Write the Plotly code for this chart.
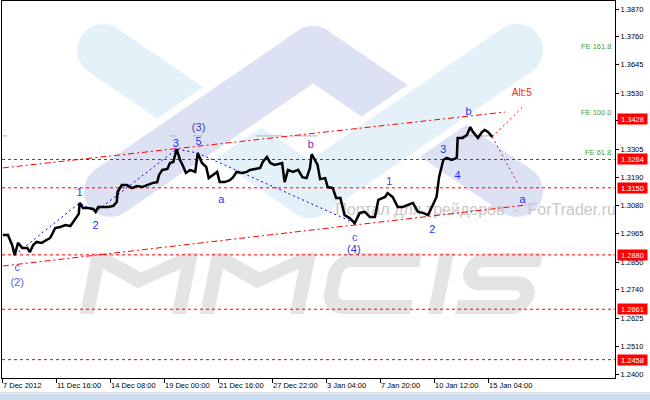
import math
import plotly.graph_objects as go

# ---------------- data ----------------
bar_index = [1, 7, 12, 15, 19, 24, 30, 33, 37, 41, 47, 53, 57, 59, 63, 69, 75, 81, 84, 88, 91, 92, 96, 102,
             108, 111, 114, 120, 126, 132, 136, 137, 142, 148, 154, 160, 166, 172, 178, 184, 186, 190, 196,
             199, 203, 207, 211, 214, 218, 223, 229, 232, 237, 242, 245, 250, 255, 258, 264, 270, 274, 278,
             284, 290, 294, 300, 306, 309, 314, 318, 323, 332, 335, 339, 345, 351, 356, 361, 365, 367, 372,
             374, 377, 383, 386, 392, 396, 401, 406, 412, 418, 424, 430, 436, 442, 446, 454, 457, 463, 469,
             475, 481, 487, 493, 499, 505, 511, 515, 518, 523, 527, 533, 539, 540, 546, 551, 555, 558, 564,
             569, 572, 576, 581]
close = [1.2960, 1.2960, 1.2920, 1.2879, 1.2928, 1.2908, 1.2908, 1.2891, 1.2920, 1.2932, 1.2928, 1.2940,
         1.2948, 1.2960, 1.2988, 1.2992, 1.3000, 1.2996, 1.3012, 1.3032, 1.3045, 1.3089, 1.3069, 1.3069,
         1.3065, 1.3053, 1.3073, 1.3073, 1.3073, 1.3077, 1.3093, 1.3133, 1.3161, 1.3161, 1.3149, 1.3157,
         1.3153, 1.3161, 1.3169, 1.3173, 1.3201, 1.3222, 1.3226, 1.3250, 1.3254, 1.3306, 1.3262, 1.3242,
         1.3210, 1.3222, 1.3214, 1.3290, 1.3250, 1.3234, 1.3189, 1.3202, 1.3214, 1.3173, 1.3173, 1.3181,
         1.3193, 1.3214, 1.3210, 1.3214, 1.3222, 1.3226, 1.3230, 1.3254, 1.3274, 1.3250, 1.3242, 1.3250,
         1.3173, 1.3222, 1.3214, 1.3222, 1.3193, 1.3189, 1.3230, 1.3286, 1.3254, 1.3242, 1.3185, 1.3189,
         1.3153, 1.3149, 1.3109, 1.3109, 1.3040, 1.3028, 1.3008, 1.3049, 1.3053, 1.3032, 1.3032, 1.3101,
         1.3113, 1.3129, 1.3113, 1.3073, 1.3073, 1.3081, 1.3089, 1.3053, 1.3049, 1.3040, 1.3081, 1.3113,
         1.3193, 1.3262, 1.3270, 1.3262, 1.3270, 1.3351, 1.3351, 1.3363, 1.3395, 1.3375, 1.3351, 1.3375,
         1.3383, 1.3375, 1.3355]

time_tick_index = [0, 64, 128, 192, 256, 320, 384, 448, 512, 576]
time_tick_text = ["7 Dec 2012", "11 Dec 16:00", "14 Dec 08:00", "19 Dec 00:00", "21 Dec 16:00",
                  "27 Dec 22:00", "3 Jan 04:00", "7 Jan 20:00", "10 Jan 12:00", "15 Jan 04:00"]
price_tick_vals = [1.3870, 1.3760, 1.3645, 1.3530, 1.3420, 1.3305, 1.3190, 1.3080, 1.2965,
                   1.2850, 1.2740, 1.2625, 1.2510, 1.2400]

hline_levels = [1.3264, 1.3150, 1.2880, 1.2661, 1.2458]
price_box_levels = [1.3428, 1.3264, 1.3150, 1.2880, 1.2661, 1.2458]

fe_levels = [1.3693, 1.3428, 1.3264]
fe_names = ["FE 161.8", "FE 100.0", "FE 61.8"]

channel_upper_idx = [1, 596]
channel_upper_px = [1.3230, 1.3455]
channel_lower_idx = [1, 622]
channel_lower_px = [1.2835, 1.3081]

wave_path_idx = [15, 92, 111, 207, 232, 418]
wave_path_px = [1.2879, 1.3089, 1.3053, 1.3306, 1.3290, 1.3008]

proj_up_idx = [581, 617]
proj_up_px = [1.3355, 1.3475]
proj_dn_idx = [581, 611]
proj_dn_px = [1.3355, 1.3169]

wave_text = ["c", "(2)", "1", "2", "3", "5", "(3)", "a", "b", "c", "(4)", "1", "2", "3", "4", "b", "a"]
wave_idx = [18, 18, 92, 111, 206, 233, 233, 260, 366, 418, 417, 459, 510, 523, 540, 553, 617]
wave_px = [1.2827, 1.2767, 1.3129, 1.2996, 1.3326, 1.3334, 1.3391, 1.3101, 1.3322, 1.2948, 1.2900,
           1.3173, 1.2980, 1.3302, 1.3197, 1.3455, 1.3101]
wave_color = ["#5a4fd8", "#5a5aff", "#2233ff", "#2233ff", "#2233ff", "#2233ff", "#3340b0", "#2233ff",
              "#7033c8", "#5a4fd8", "#2a3ad0", "#7033c8", "#2233ff", "#2233ff", "#2233ff", "#2233ff", "#2233ff"]
alt_text = ["Alt:5"]
alt_idx = [616]
alt_px = [1.3528]

bid_level = 1.3359
bid_segments = [(1, 6), (199, 206), (226, 237), (301, 333), (344, 374), (545, 583)]

# ---------------- geometry helpers (pixel -> paper) ----------------
PL, PR, PT, PB = 2, 615, 1, 378
W_PLOT, H_PLOT = PR - PL, PB - PT
X_RANGE = [0, 726.5]


def to_paper(px, py):
    return (px - PL) / W_PLOT, (PB - py) / H_PLOT


def path_of(pts):
    out = []
    for k, (x, y) in enumerate(pts):
        u, v = to_paper(x, y)
        out.append(("M" if k == 0 else "L") + f"{u:.5f},{v:.5f}")
    return " ".join(out) + " Z"


def stadium(p1, p2, r, n=16):
    (x1, y1), (x2, y2) = p1, p2
    a = math.atan2(y2 - y1, x2 - x1)
    pts = []
    for k in range(n + 1):
        t = a - math.pi / 2 + math.pi * k / n
        pts.append((x2 + r * math.cos(t), y2 + r * math.sin(t)))
    for k in range(n + 1):
        t = a + math.pi / 2 + math.pi * k / n
        pts.append((x1 + r * math.cos(t), y1 + r * math.sin(t)))
    return pts


def arc(cx, cy, r, a0, a1, n=8):
    return [(cx + r * math.cos(math.radians(a0 + (a1 - a0) * k / n)),
             cy + r * math.sin(math.radians(a0 + (a1 - a0) * k / n))) for k in range(n + 1)]


def slant(pts, x0, top, H, k):
    return [(x0 + u + k * (H - v) / H, top + v) for (u, v) in pts]


shapes = []
CYAN, LAV = "#e4f1f9", "#dde1f4"


def add_poly(pts, color):
    shapes.append(dict(type="path", xref="paper", yref="paper", path=path_of(pts),
                       fillcolor=color, line=dict(width=0), layer="below"))


R_BAND, GAP = 26, 7
cyan_L = ((103, 50), (310, 192))
cyan_R = ((310, 192), (517, 50))
lav_L = ((110, 191), (313, 52))
lav_R = ((313, 52), (517, 191))
add_poly(stadium(*cyan_L, R_BAND), CYAN)
add_poly(stadium(*cyan_R, R_BAND), CYAN)
add_poly(stadium(*lav_L, R_BAND + GAP), "#ffffff")
add_poly(stadium(*lav_L, R_BAND), LAV)
add_poly(stadium(*lav_R, R_BAND), LAV)
(cx1, cy1), (cx2, cy2) = cyan_R
ta, tb = 0.28, 0.72
add_poly(stadium((cx1 + (cx2 - cx1) * ta, cy1 + (cy2 - cy1) * ta),
                 (cx1 + (cx2 - cx1) * tb, cy1 + (cy2 - cy1) * tb), R_BAND + GAP), "#ffffff")
add_poly(stadium(*cyan_R, R_BAND), CYAN)

# MMCIS letters
GRAY = "#e4e4e4"
TOP, H, K, S = 253, 61, 12, 14


def letter_M(W):
    vu = 0.32 * H
    ang = math.atan2(vu, W / 2 - S)
    d = S / math.cos(ang)
    return [(0, H), (0, 0), (S, 0), (W / 2, vu), (W - S, 0), (W, 0), (W, H), (W - S, H),
            (W - S, d), (W / 2, vu + d), (S, d), (S, H)]


def letter_C(W, R=22):
    r = R - S
    pts = [(W, 0), (R, 0)] + arc(R, R, R, -90, -180) + [(0, H - R)] + arc(R, H - R, R, 180, 90)
    pts += [(W, H), (W, H - S)] + arc(R, H - R, r, 90, 180) + arc(R, R, r, 180, 270) + [(W, S)]
    return pts


def letter_I(W):
    return [(0, H), (0, 0), (W, 0), (W, H)]


def letter_S(W, R=20):
    r = R - S
    m0, m1 = (H - S) / 2, (H + S) / 2
    pts = [(W, 0), (R, 0)] + arc(R, R, R, -90, -180) + arc(R, m1 - R, R, 180, 90)
    pts += arc(W - S - r, m1 + r, r, -90, 0) + arc(W - S - r, H - S - r, r, 0, 90)
    pts += [(0, H - S), (0, H)] + arc(W - R, H - R, R, 90, 0) + arc(W - R, m0 + R, R, 0, -90)
    pts += arc(S + r, m0 - r, r, 90, 180) + arc(S + r, S + r, r, 180, 270) + [(W, S)]
    return pts


for x0, pts in [(80, letter_M(106)), (200, letter_M(104)), (320, letter_C(90)),
                (428, letter_I(14)), (455, letter_S(76))]:
    add_poly(slant(pts, x0, TOP, H, K), GRAY)

# gray bid line fragments
for a, b in bid_segments:
    shapes.append(dict(type="line", xref="x", yref="y", x0=a, x1=b, y0=bid_level, y1=bid_level,
                       line=dict(color="#b4b4b4", width=1), layer="below"))
# bottom tab bar
bx0, by0 = to_paper(-5, 400)
bx1, by1 = to_paper(660, 393.5)
shapes.append(dict(type="rect", xref="paper", yref="paper", x0=bx0, x1=bx1, y0=by0, y1=by1,
                   fillcolor="#cddcee", line=dict(width=0)))
lx0, ly = to_paper(-5, 392.5)
shapes.append(dict(type="line", xref="paper", yref="paper", x0=lx0, x1=bx1, y0=ly, y1=ly,
                   line=dict(color="#dcdcdc", width=1)))

fig = go.Figure()
fig.add_trace(go.Scatter(x=[395], y=[1.3057], mode="text", text=["Портал для трейдеров  -  ForTrader.ru"],
                         textposition="middle right", cliponaxis=True,
                         textfont=dict(family="Liberation Sans", size=16, color="#c8c8c8"),
                         hoverinfo="skip", showlegend=False))
# red horizontal levels
hx, hy = [], []
for lv in hline_levels:
    hx += [X_RANGE[0], X_RANGE[1], None]
    hy += [lv, lv, None]
fig.add_trace(go.Scatter(x=hx, y=hy, mode="lines", connectgaps=False,
                         line=dict(color="#ff0000", width=1, dash="3px,3px"), showlegend=False))
fig.add_trace(go.Scatter(x=channel_upper_idx, y=channel_upper_px, mode="lines",
                         line=dict(color="#ff0000", width=1, dash="6px,3px,2px,3px"), showlegend=False))
fig.add_trace(go.Scatter(x=channel_lower_idx, y=channel_lower_px, mode="lines",
                         line=dict(color="#ff0000", width=1, dash="6px,3px,2px,3px"), showlegend=False))
fig.add_trace(go.Scatter(x=wave_path_idx, y=wave_path_px, mode="lines",
                         line=dict(color="#0000ff", width=1, dash="2px,3px"), showlegend=False))
for xi, yi in [(proj_up_idx, proj_up_px), (proj_dn_idx, proj_dn_px)]:
    fig.add_trace(go.Scatter(x=xi, y=yi, mode="lines", cliponaxis=False,
                             line=dict(color="#ff0000", width=1, dash="2px,3px"), showlegend=False))
fig.add_trace(go.Scatter(x=bar_index, y=close, mode="lines",
                         line=dict(color="#000000", width=2.5), showlegend=False))
fig.add_trace(go.Scatter(x=wave_idx, y=wave_px, mode="text", text=wave_text, cliponaxis=False,
                         textfont=dict(family="Liberation Sans", size=11, color=wave_color),
                         showlegend=False))
fig.add_trace(go.Scatter(x=alt_idx, y=alt_px, mode="text", text=alt_text, cliponaxis=False,
                         textfont=dict(family="Liberation Sans", size=10, color="#ff2020"),
                         showlegend=False))

ann = []
for lv in price_box_levels:
    ann.append(dict(xref="paper", yref="y", x=(617 - PL) / W_PLOT, y=lv, xanchor="left", yanchor="middle",
                    text=f"{lv:.4f}", showarrow=False, bgcolor="#ff0000", width=29, height=10,
                    font=dict(family="Liberation Sans", size=7.5, color="#ffffff"), borderpad=0))
for lv, nm in zip(fe_levels, fe_names):
    ann.append(dict(xref="paper", yref="y", x=(613 - PL) / W_PLOT, y=lv, xanchor="right", yanchor="bottom",
                    text=nm, showarrow=False,
                    font=dict(family="Liberation Sans", size=7.5, color="#4d9a3a")))

fig.update_layout(
    width=650, height=400, margin=dict(l=PL, r=650 - PR, t=PT, b=400 - PB, autoexpand=False),
    paper_bgcolor="#ffffff", plot_bgcolor="#ffffff", shapes=shapes, annotations=ann,
    hovermode=False,
    xaxis=dict(range=X_RANGE, tickvals=time_tick_index, ticktext=time_tick_text, showgrid=False,
               zeroline=False, showline=True, mirror=True, linecolor="#000000", linewidth=1,
               ticks="outside", ticklen=4, tickcolor="#000000", ticklabelposition="outside right",
               automargin=False,
               tickfont=dict(family="Liberation Sans", size=7.5, color="#000000")),
    yaxis=dict(range=[1.23841, 1.39022], side="right", tickvals=price_tick_vals,
               ticktext=[f"{v:.4f}" for v in price_tick_vals], showgrid=False, zeroline=False,
               showline=True, mirror=True, linecolor="#000000", linewidth=1, ticks="outside",
               ticklen=3, tickcolor="#000000", automargin=False,
               tickfont=dict(family="Liberation Sans", size=7.5, color="#000000")),
)
fig.write_html("out.html", config={"displayModeBar": False},
               post_script="document.body.style.margin='0';document.body.style.padding='0';")
